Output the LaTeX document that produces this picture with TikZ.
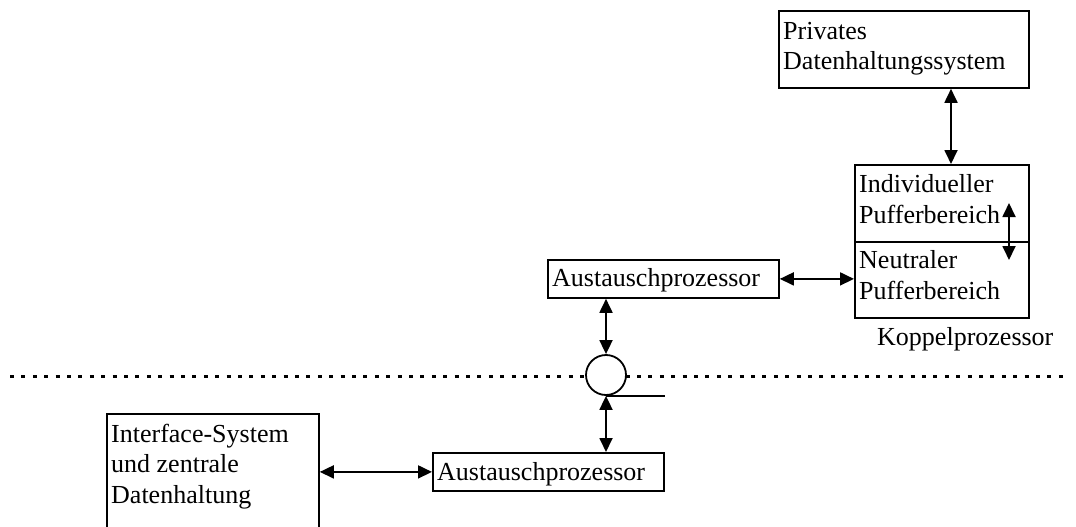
\documentclass[tikz,border=0pt]{standalone}
\usepackage{fontspec}
\setmainfont{Liberation Serif}
\usetikzlibrary{arrows.meta}
\begin{document}
\begin{tikzpicture}[x=1pt,y=-1pt,
  box/.style={draw, line width=1.8pt, inner sep=0pt, anchor=north west, rectangle},
  lbl/.style={inner sep=0pt, anchor=base west, align=left, font=\fontsize{26}{30.5}\selectfont},
  link/.style={line width=1.8pt, {Triangle[length=14pt,width=13pt]}-{Triangle[length=14pt,width=13pt]}},
  sep/.style={line width=3pt, dash pattern=on 4pt off 7.4pt},
]
\clip (0,0) rectangle (1076,527);

% boxes
\node[box, minimum width=250pt, minimum height=77pt] (priv) at (778,10) {};
\node[box, minimum width=174pt, minimum height=77pt] (kind) at (854,164) {};
\node[box, minimum width=174pt, minimum height=76pt] (neut) at (854,241) {};
\node[box, minimum width=231pt, minimum height=38pt] (aus1) at (547,259) {};
\node[box, minimum width=231pt, minimum height=38pt] (aus2) at (432,452) {};
\node[box, minimum width=212pt, minimum height=130pt] (iface) at (106,413) {};

% texts (base anchor sits on the last line)
\node[lbl] (privt) at (783,70) {Privates\\Datenhaltungssystem};
\node[lbl] (kindt) at (859,223) {Individueller\\Pufferbereich};
\node[lbl] (neutt) at (859,299) {Neutraler\\Pufferbereich};
\node[lbl] (aus1t) at (552,286) {Austauschprozessor};
\node[lbl] (aus2t) at (437,480) {Austauschprozessor};
\node[lbl] (ifacet) at (111,503) {Interface-System\\und zentrale\\Datenhaltung};
\node[lbl] (koppel) at (877,345) {Koppelprozessor};

% dotted boundary
\coordinate (dl) at (10,376);
\coordinate (dr) at (1070,376);
\draw[sep] (dl) -- (dr);

% junction
\node[draw, circle, line width=1.8pt, fill=white, minimum size=40pt, inner sep=0pt] (ring) at (606,375) {};
\draw[line width=1.8pt] (ring.south) -- (ring.south -| aus2.east);

% connectors
\coordinate (pk) at (951,0);
\draw[link] (priv.south -| pk) -- (kind.north -| pk);
\coordinate (pa) at (1009,203);
\coordinate (pb) at (1009,260);
\draw[link] (pa) -- (pb);
\draw[link] (aus1.east) -- (aus1.east -| neut.west);
\draw[link] (ring.north |- aus1.south) -- (ring.north);
\draw[link] (ring.south) -- (ring.south |- aus2.north);
\draw[link] (iface.east |- aus2.west) -- (aus2.west);
\end{tikzpicture}
\end{document}
